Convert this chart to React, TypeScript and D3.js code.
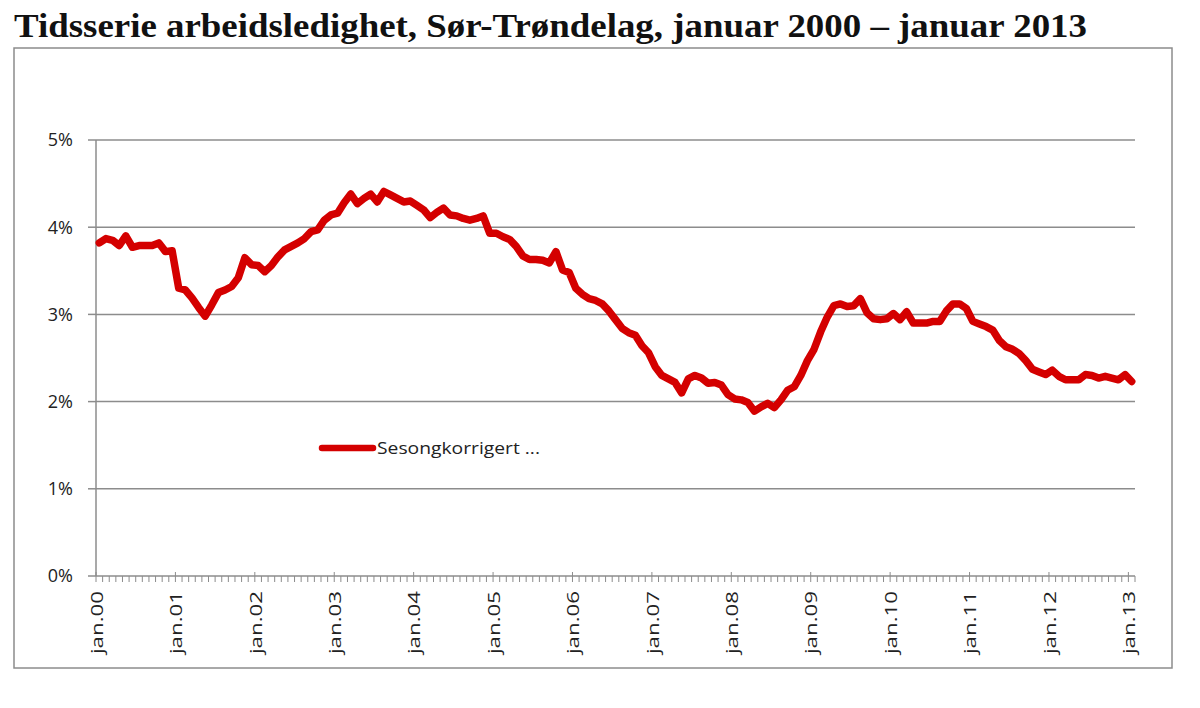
import * as d3 from 'd3';

// Seasonally adjusted unemployment (%), monthly jan.00 .. jan.13
const rate = [
  3.82, 3.87, 3.85, 3.79, 3.9, 3.77, 3.79, 3.79, 3.79, 3.82, 3.72, 3.73,
  3.3, 3.28, 3.19, 3.08, 2.98, 3.11, 3.25, 3.28, 3.32, 3.42, 3.65, 3.57,
  3.56, 3.49, 3.56, 3.66, 3.74, 3.78, 3.82, 3.87, 3.95, 3.97, 4.08, 4.14,
  4.16, 4.28, 4.38, 4.27, 4.33, 4.38, 4.29, 4.41, 4.37, 4.33, 4.29, 4.3,
  4.25, 4.2, 4.11, 4.17, 4.22, 4.14, 4.13, 4.1, 4.08, 4.1, 4.13, 3.93,
  3.93, 3.89, 3.86, 3.78, 3.67, 3.63, 3.63, 3.62, 3.59, 3.72, 3.51, 3.48,
  3.3, 3.23, 3.18, 3.16, 3.12, 3.04, 2.94, 2.84, 2.79, 2.76, 2.64, 2.56,
  2.4, 2.3, 2.26, 2.22, 2.1, 2.26, 2.3, 2.27, 2.21, 2.22, 2.19, 2.08,
  2.03, 2.02, 1.99, 1.89, 1.94, 1.98, 1.93, 2.02, 2.13, 2.17, 2.3, 2.47,
  2.6, 2.8, 2.97, 3.1, 3.12, 3.09, 3.1, 3.18, 3.02, 2.95, 2.94, 2.95,
  3.01, 2.94, 3.03, 2.9, 2.9, 2.9, 2.92, 2.92, 3.04, 3.12, 3.12, 3.07,
  2.92, 2.89, 2.86, 2.82, 2.7, 2.63, 2.6, 2.55, 2.47, 2.37, 2.34, 2.31,
  2.36, 2.29, 2.25, 2.25, 2.25, 2.31, 2.3, 2.27, 2.29, 2.27, 2.25, 2.31,
  2.23,
];

const yearLabels = [
  'jan.00', 'jan.01', 'jan.02', 'jan.03', 'jan.04', 'jan.05', 'jan.06',
  'jan.07', 'jan.08', 'jan.09', 'jan.10', 'jan.11', 'jan.12', 'jan.13',
];

const yTicks = [0, 1, 2, 3, 4, 5];

const title = 'Tidsserie arbeidsledighet, Sør-Trøndelag, januar 2000 – januar 2013';
const seriesName = 'Sesongkorrigert ...';

const W = 1200;
const H = 708;
const margin = { top: 140, right: 65, bottom: 132, left: 96 };
const sans = '"Open Sans", "Liberation Sans", sans-serif';
const red = '#d40000';
const grey = '#8c8c8c';

export default function App() {
  const x = d3.scaleBand<number>()
    .domain(d3.range(rate.length))
    .range([margin.left, W - margin.right]);

  const y = d3.scaleLinear()
    .domain([0, 5])
    .range([H - margin.bottom, margin.top]);

  const cx = (i: number) => (x(i) as number) + x.bandwidth() / 2;

  const line = d3.line<number>()
    .x((_, i) => cx(i))
    .y(d => y(d));

  const x0 = margin.left;
  const x1 = W - margin.right;
  const y0 = y(0);

  return (
    <svg width={W} height={H} style={{ position: 'absolute', left: 0, top: 0, background: '#fff' }}>
      <text x={14} y={37} fontFamily='"Liberation Serif", "Times New Roman", serif'
        fontWeight="bold" fontSize={33} textLength={1073} lengthAdjust="spacingAndGlyphs" fill="#111">
        {title}
      </text>

      <rect x={14} y={48} width={1158} height={620} fill="none" stroke={grey} strokeWidth={1.5} />

      {yTicks.map(t => (
        <g key={t}>
          {t > 0 && <line x1={x0} x2={x1} y1={y(t)} y2={y(t)} stroke={grey} strokeWidth={1.5} />}
          <line x1={x0 - 8} x2={x0} y1={y(t)} y2={y(t)} stroke={grey} strokeWidth={1.5} />
          <text x={73} y={y(t)} dy="0.36em" textAnchor="end" fontFamily={sans} fontSize={18} fill="#222">
            {t}%
          </text>
        </g>
      ))}

      <line x1={x0} x2={x0} y1={y(5)} y2={y0} stroke={grey} strokeWidth={1.5} />
      <line x1={x0} x2={x1} y1={y0} y2={y0} stroke={grey} strokeWidth={1.5} />

      {d3.range(rate.length + 1).map(i => {
        const px = i < rate.length ? (x(i) as number) : x1;
        const major = i % 12 === 0;
        return (
          <line key={i} x1={px} x2={px} y1={major ? y0 - 4 : y0} y2={y0 + 6}
            stroke={grey} strokeWidth={1} />
        );
      })}

      {yearLabels.map((lab, k) => {
        const px = (x(k * 12) as number) + 1;
        return (
          <text key={lab} transform={`translate(${px},${y0 + 15}) rotate(-90)`} dy="0.36em"
            textAnchor="end" fontFamily={sans} fontSize={16} fill="#222"
            textLength={63} lengthAdjust="spacingAndGlyphs">
            {lab}
          </text>
        );
      })}

      <path d={line(rate) ?? ''} fill="none" stroke={red} strokeWidth={7.5}
        strokeLinejoin="round" strokeLinecap="round" />

      <line x1={322} x2={373} y1={448} y2={448} stroke={red} strokeWidth={6.5} strokeLinecap="round" />
      <text x={377} y={448} dy="0.36em" fontFamily={sans} fontSize={17} fill="#222"
        textLength={163} lengthAdjust="spacingAndGlyphs">
        {seriesName}
      </text>
    </svg>
  );
}
